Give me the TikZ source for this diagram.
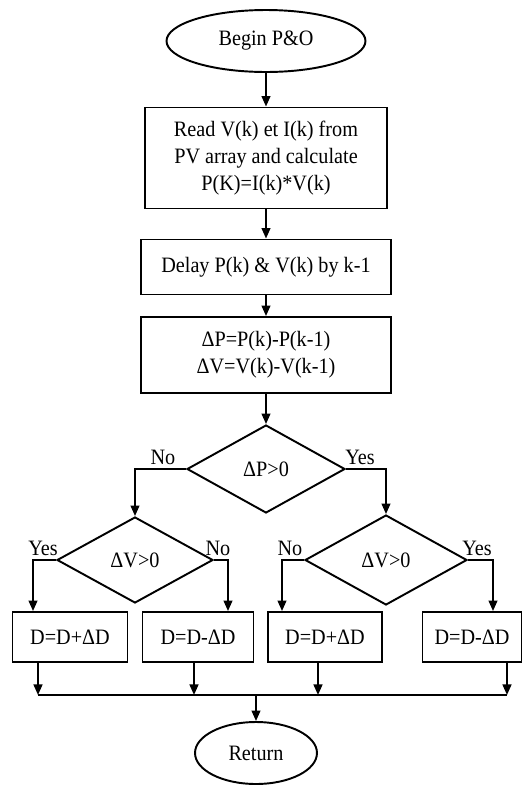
\documentclass[tikz,border=0pt]{standalone}
\usepackage{fontspec}
\setmainfont[FakeStretch=0.92]{Liberation Serif}
\usetikzlibrary{positioning,arrows.meta,shapes.geometric}

\begin{document}
\begin{tikzpicture}[x=0.02cm, y=-0.02cm, >={Triangle[length=6pt,width=5pt]}, line width=1.1pt,
  every node/.style={font=\fontsize{12.5}{15.3}\selectfont},
  term/.style={draw, ellipse, inner sep=0pt},
  proc/.style={draw, rectangle, align=center, inner sep=2pt},
  dec/.style={draw, diamond, aspect=1.8, inner sep=0pt}]
  \useasboundingbox (0,0) rectangle (529,785);
  % main column
  \node[term, minimum width=3.98cm, minimum height=1.24cm] (begin) at (266,41) {Begin P\&O};
  \node[proc, minimum width=4.84cm, minimum height=2.02cm] (read) at (266,158) {Read V(k) et I(k) from\\PV array and calculate\\P(K)=I(k)*V(k)};
  \node[proc, minimum width=5.0cm, minimum height=1.1cm] (delay) at (266,267) {Delay P(k) \& V(k) by k-1};
  \node[proc, minimum width=5.0cm, minimum height=1.52cm] (diff) at (266,355) {ΔP=P(k)-P(k-1)\\ΔV=V(k)-V(k-1)};
  \node[dec, minimum width=3.16cm, minimum height=1.76cm] (dp) at (266,469) {ΔP>0};
  % second level decisions
  \node[dec, minimum width=3.12cm, minimum height=1.72cm] (dv1) at (135,560) {ΔV>0};
  \node[dec, minimum width=3.24cm, minimum height=1.8cm] (dv2) at (386,560) {ΔV>0};
  % duty updates
  \node[proc, minimum width=2.3cm, minimum height=1.0cm] (inc1) at (70,637) {D=D+ΔD};
  \node[proc, minimum width=2.22cm, minimum height=1.0cm] (dec1) at (198,637) {D=D-ΔD};
  \node[proc, minimum width=2.28cm, minimum height=1.0cm] (inc2) at (325,637) {D=D+ΔD};
  \node[proc, minimum width=1.98cm, minimum height=1.0cm] (dec2) at (472,637) {D=D-ΔD};
  \coordinate (bus) at (256,695);
  \node[term, minimum width=2.44cm, minimum height=1.24cm] (ret) at (256,753) {Return};
  % branch labels
  \node (lno) at (163,457) {No};
  \node (lyes) at (360,457) {Yes};
  \node (lyes1) at (43,548) {Yes};
  \node (lno1) at (218,548) {No};
  \node (lno2) at (290,548) {No};
  \node (lyes2) at (477,548) {Yes};
  % connectors
  \draw[->] (begin) -- (read);
  \draw[->] (read) -- (delay);
  \draw[->] (delay) -- (diff);
  \draw[->] (diff) -- (dp);
  \draw[->] (dp.west) -| (dv1.north);
  \draw[->] (dp.east) -| (dv2.north);
  \draw[->] (dv1.west) -| ([xshift=-0.74cm]inc1.north);
  \draw[->] (dv1.east) -| ([xshift=0.6cm]dec1.north);
  \draw[->] (dv2.west) -| ([xshift=-0.86cm]inc2.north);
  \draw[->] (dv2.east) -| ([xshift=0.42cm]dec2.north);
  \foreach \n/\s in {inc1/-0.64cm, dec1/-0.08cm, inc2/-0.14cm, dec2/0.7cm}
    \draw[->] ([xshift=\s]\n.south) -- ([xshift=\s]\n.south |- bus);
  \draw ([xshift=-0.64cm]inc1.south |- bus) -- ([xshift=0.7cm]dec2.south |- bus);
  \draw[->] (bus) -- (ret);
\end{tikzpicture}
\end{document}
